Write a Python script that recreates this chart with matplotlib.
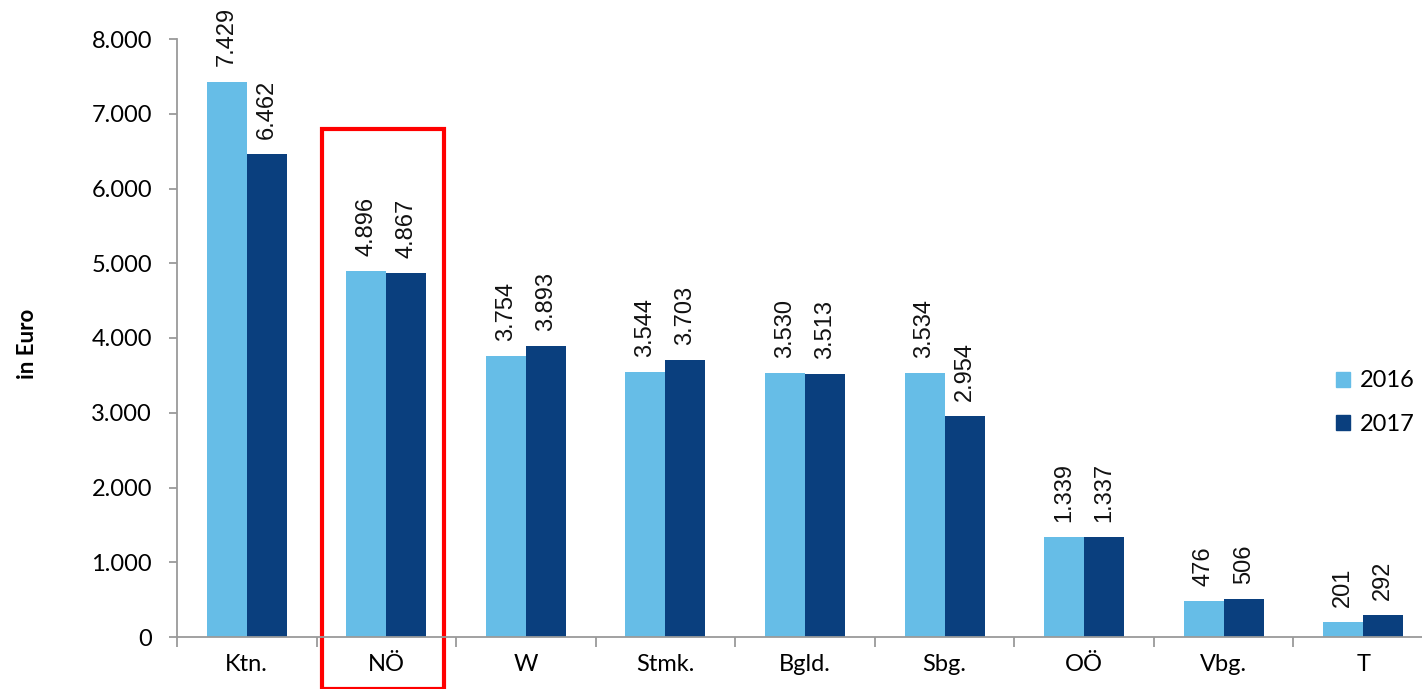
import matplotlib.pyplot as plt
from matplotlib.patches import Rectangle, Patch
from matplotlib.ticker import FuncFormatter, MultipleLocator
import numpy as np

# Bundeslaender und Werte in Euro
laender = ["Ktn.", "NÖ", "W", "Stmk.", "Bgld.", "Sbg.", "OÖ", "Vbg.", "T"]
werte_2016 = [7429, 4896, 3754, 3544, 3530, 3534, 1339, 476, 201]
werte_2017 = [6462, 4867, 3893, 3703, 3513, 2954, 1337, 506, 292]
jahre = ["2016", "2017"]

hell = "#66BDE7"
dunkel = "#0A3F7E"

fig = plt.figure(figsize=(14.22, 6.89), dpi=100)
ax = fig.add_axes([177 / 1422, 52 / 689, 1256 / 1422, 598 / 689])

x = np.arange(len(laender))
w = 0.287
b1 = ax.bar(x - w / 2, werte_2016, w, color=hell, label=jahre[0])
b2 = ax.bar(x + w / 2, werte_2017, w, color=dunkel, label=jahre[1])

def punkt(v):
    return f"{int(v):,}".replace(",", ".")

for bars in (b1, b2):
    for r in bars:
        ax.annotate(punkt(r.get_height()), (r.get_x() + r.get_width() / 2, r.get_height()),
                    xytext=(0, 11), textcoords="offset points", rotation=90,
                    ha="center", va="bottom", fontsize=17, family="Liberation Sans",
                    color="#111111")

ax.set_xlim(-0.5, len(laender) - 0.5)
ax.set_ylim(0, 8000)
ax.yaxis.set_major_locator(MultipleLocator(1000))
ax.yaxis.set_major_formatter(FuncFormatter(lambda v, p: punkt(v)))

ax.set_xticks(np.arange(len(laender) + 1) - 0.5)
ax.set_xticklabels([])
ax.set_xticks(x, minor=True)
ax.set_xticklabels(laender, minor=True, fontsize=17, family="Lato")
ax.tick_params(axis="x", which="major", length=7, width=1.3, color="#9a9a9a", direction="out")
ax.tick_params(axis="x", which="minor", length=0, pad=12)
ax.tick_params(axis="y", length=6, width=1.3, color="#9a9a9a", pad=12, labelsize=17)
for t in ax.get_yticklabels():
    t.set_family("Lato")

for s in ["top", "right"]:
    ax.spines[s].set_visible(False)
for s in ["left", "bottom"]:
    ax.spines[s].set_color("#9a9a9a")
    ax.spines[s].set_linewidth(1.3)

ax.set_ylabel("in Euro", fontsize=16, fontweight="bold", family="Lato")
ax.yaxis.set_label_coords(-0.111, 0.49)

handles = [Patch(color=hell), Patch(color=dunkel)]
ax.legend(handles, jahre, loc="center left", bbox_to_anchor=(0.923, 0.392),
          frameon=False, prop={"family": "Lato", "size": 17},
          handlelength=0.6, handleheight=0.6, handletextpad=0.4, labelspacing=0.95,
          borderaxespad=0, borderpad=0)

# roter Rahmen um NÖ
ax.add_patch(Rectangle((1 - 0.46, -700), 0.875, 7500, fill=False, edgecolor="#FF0000",
                       linewidth=3, clip_on=False))

fig.savefig("out.png", dpi=100)
